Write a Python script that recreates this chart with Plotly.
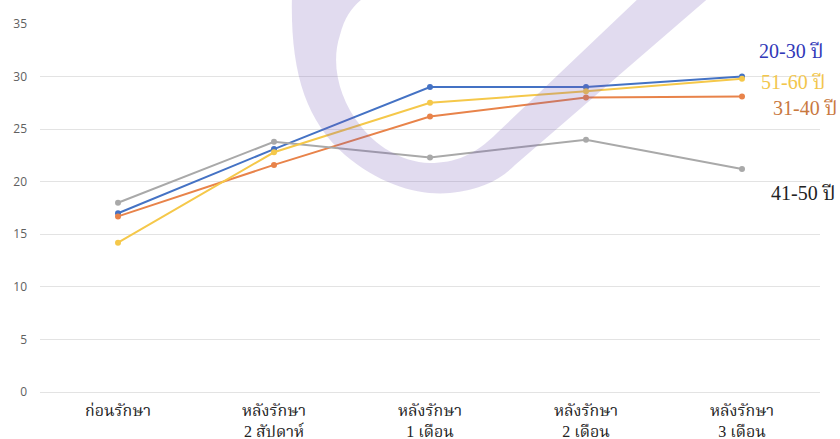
import plotly.graph_objects as go

# Treatment stages (x categories)
stages = ["ก่อนรักษา", "หลังรักษา<br>2 สัปดาห์", "หลังรักษา<br>1 เดือน",
          "หลังรักษา<br>2 เดือน", "หลังรักษา<br>3 เดือน"]

# Scores per age group
age_20_30 = [17.0, 23.1, 29.0, 29.0, 30.0]
age_31_40 = [16.7, 21.6, 26.2, 28.0, 28.1]
age_41_50 = [18.0, 23.8, 22.3, 24.0, 21.2]
age_51_60 = [14.2, 22.8, 27.5, 28.6, 29.8]

group_names = ["20-30 ปี", "31-40 ปี", "41-50 ปี", "51-60 ปี"]
group_values = [age_20_30, age_31_40, age_41_50, age_51_60]
line_colors = ["#4472C4", "#E8834A", "#A9A9A9", "#F5C84A"]
label_colors = ["#3138B8", "#C9793F", "#222222", "#F2C64C"]
label_pos = [(757, 51), (771, 108), (769, 193), (759, 82)]

W, H = 840, 439
L, R, T, B = 40, 20, 24, 47
PW, PH = W - L - R, H - T - B


def px(x):
    return (x - L) / PW


def py(y):
    return (H - B - y) / PH


fig = go.Figure()
for name, vals, col in zip(group_names, group_values, line_colors):
    fig.add_trace(go.Scatter(
        x=stages, y=vals, mode="lines+markers", name=name,
        line=dict(color=col, width=2),
        marker=dict(color=col, size=6),
        hoverinfo="skip",
    ))

for name, col, (lx, ly) in zip(group_names, label_colors, label_pos):
    fig.add_annotation(
        text=name, xref="paper", yref="paper", x=px(lx), y=py(ly),
        xanchor="left", yanchor="middle", showarrow=False,
        font=dict(family="Liberation Serif, Noto Serif Thai, serif", size=20, color=col),
    )

# Decorative translucent swoosh over the plot
pts = [
    ("M", [(292, -5)]),
    ("C", [(290, 70), (305, 120), (345, 155)]),
    ("C", [(380, 185), (420, 196), (450, 193)]),
    ("C", [(480, 190), (500, 180), (515, 165)]),
    ("L", [(712, -5)]),
    ("L", [(642, -5)]),
    ("L", [(497, 133)]),
    ("C", [(475, 155), (455, 163), (430, 163)]),
    ("C", [(400, 162), (375, 145), (360, 125)]),
    ("C", [(340, 100), (330, 65), (340, 35)]),
    ("C", [(345, 15), (355, 3), (368, -5)]),
]
path = ""
for cmd, coords in pts:
    path += cmd + " " + " ".join(f"{px(x):.5f},{py(y):.5f}" for x, y in coords) + " "
path += "Z"
fig.add_shape(type="path", path=path, xref="paper", yref="paper",
              fillcolor="rgba(120,90,180,0.22)", line=dict(width=0), layer="above")

fig.update_layout(
    width=W, height=H,
    margin=dict(l=L, r=R, t=T, b=B, autoexpand=False),
    plot_bgcolor="white", paper_bgcolor="white",
    showlegend=False,
    font=dict(family="Open Sans, sans-serif"),
)
fig.update_xaxes(
    type="category", range=[-0.5, 4.5], automargin=False,
    showgrid=False, showline=False, zeroline=False,
    tickfont=dict(family="Liberation Serif, Noto Serif Thai, serif", size=16, color="#222222"),
    ticks="", ticklabelstandoff=7,
)
fig.update_yaxes(
    range=[0, 35], dtick=5, automargin=False,
    showgrid=True, gridcolor="#E3E3E3", gridwidth=1,
    zeroline=True, zerolinecolor="#E3E3E3", zerolinewidth=1, showline=False,
    tickfont=dict(size=12, color="#606060"), ticks="", ticklabelstandoff=12,
)

fig.write_html("out.html")
